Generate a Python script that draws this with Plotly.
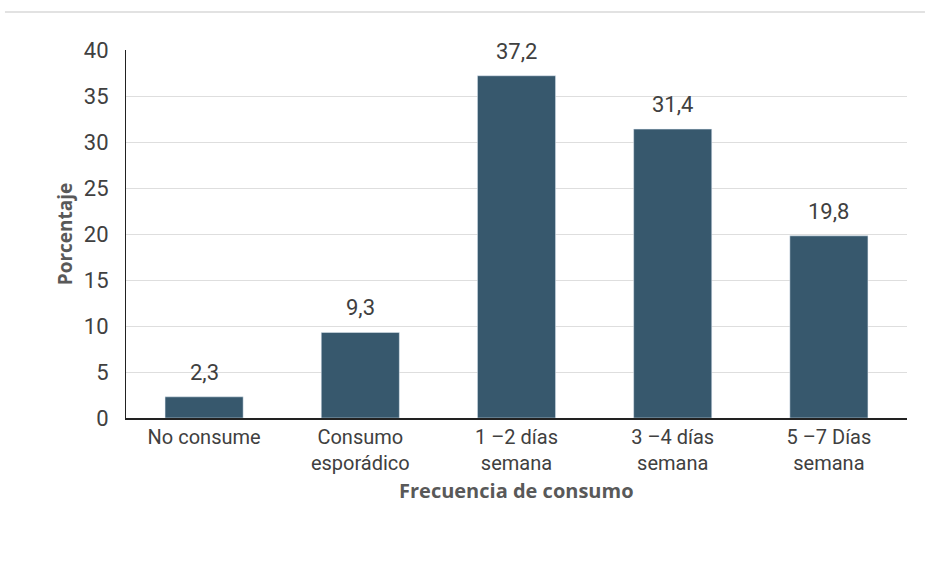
import plotly.graph_objects as go

categories = ["No consume", "Consumo<br>esporádico", "1 –2 días<br>semana", "3 –4 días<br>semana", "5 –7 Días<br>semana"]
values = [2.3, 9.3, 37.2, 31.4, 19.8]
labels = ["2,3", "9,3", "37,2", "31,4", "19,8"]

FONT = "Roboto, sans-serif"
TXT = "#404040"

fig = go.Figure(go.Bar(
    x=categories, y=values,
    marker=dict(color="#37586d"), width=0.5,
))
for c, v, t in zip(categories, values, labels):
    fig.add_annotation(x=c, y=v, text=t, showarrow=False, yanchor="bottom", yshift=10,
                       font=dict(size=22, color=TXT, family=FONT))

fig.add_annotation(xref="paper", yref="paper", x=0.5, y=-0.196, yanchor="middle",
                   text="<b>Frecuencia de consumo</b>", showarrow=False,
                   font=dict(size=20, color="#595959", family="Open Sans, sans-serif"))

fig.update_layout(
    width=925, height=571, margin=dict(l=126, r=18, t=50, b=153),
    plot_bgcolor="white", paper_bgcolor="white", showlegend=False,
    font=dict(family=FONT, color=TXT),
    shapes=[dict(type="line", xref="paper", yref="paper", x0=-0.155, x1=1.023,
                 y0=1.103, y1=1.103, line=dict(color="#d9d9d9", width=1.5))],
)
fig.update_yaxes(range=[0, 40], dtick=5, showgrid=True, gridcolor="#dedede", gridwidth=1,
                 showline=True, linecolor="#222", linewidth=1, zeroline=False,
                 tickfont=dict(size=22, color=TXT, family=FONT), ticklabelstandoff=12,
                 title=dict(text="<b>Porcentaje</b>", font=dict(size=19, color="#595959", family="Open Sans, sans-serif"), standoff=6))
fig.update_xaxes(showline=True, linecolor="#222", linewidth=1.5,
                 tickfont=dict(size=20, color=TXT, family=FONT))

fig.write_html("out.html")
